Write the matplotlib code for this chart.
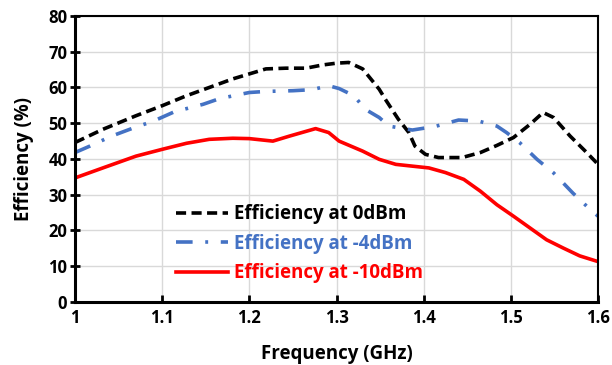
import matplotlib
matplotlib.use("Agg")
import matplotlib.pyplot as plt

# Data
freq_0dbm = [1.00, 1.032, 1.07, 1.10, 1.128, 1.154, 1.181, 1.20, 1.219, 1.242, 1.265, 1.284,
             1.30, 1.314, 1.33, 1.349, 1.356, 1.371, 1.383, 1.39, 1.402, 1.417, 1.444,
             1.465, 1.484, 1.503, 1.522, 1.537, 1.549, 1.568, 1.587, 1.60]
eff_0dbm = [44.6, 48.3, 52.1, 54.9, 57.7, 60.0, 62.4, 63.8, 65.2, 65.4, 65.4, 66.3,
            66.8, 67.0, 65.2, 59.5, 56.7, 51.1, 47.4, 43.6, 41.3, 40.4, 40.4,
            41.8, 43.8, 46.0, 49.7, 53.0, 51.6, 46.4, 41.8, 38.5]

freq_m4dbm = [1.00, 1.017, 1.042, 1.065, 1.09, 1.114, 1.147, 1.166, 1.20, 1.219, 1.25, 1.272,
              1.291, 1.303, 1.32, 1.333, 1.349, 1.36, 1.387, 1.413, 1.44, 1.463, 1.484,
              1.495, 1.51, 1.53, 1.549, 1.571, 1.587, 1.60]
eff_m4dbm = [41.8, 43.6, 46.4, 48.5, 50.6, 53.2, 55.3, 56.9, 58.6, 58.9, 59.1, 59.4,
             60.5, 59.7, 57.7, 53.9, 51.6, 49.2, 48.1, 49.1, 50.9, 50.6, 49.2,
             47.4, 44.6, 39.9, 36.1, 30.5, 26.8, 24.0]

freq_m10dbm = [1.00, 1.032, 1.07, 1.10, 1.128, 1.154, 1.181, 1.20, 1.227, 1.246, 1.276, 1.291,
               1.303, 1.33, 1.349, 1.368, 1.387, 1.406, 1.425, 1.446, 1.465, 1.484, 1.503,
               1.522, 1.541, 1.56, 1.579, 1.60]
eff_m10dbm = [34.7, 37.5, 40.8, 42.7, 44.4, 45.5, 45.8, 45.7, 45.0, 46.4, 48.5, 47.4,
              45.0, 42.2, 39.9, 38.5, 38.0, 37.5, 36.2, 34.3, 31.0, 27.2, 24.0,
              20.7, 17.4, 15.1, 12.9, 11.3]

labels = ["Efficiency at 0dBm", "Efficiency at -4dBm", "Efficiency at -10dBm"]
x_ticks = [1, 1.1, 1.2, 1.3, 1.4, 1.5, 1.6]
x_ticklabels = ["1", "1.1", "1.2", "1.3", "1.4", "1.5", "1.6"]
y_ticks = [0, 10, 20, 30, 40, 50, 60, 70, 80]

plt.rcParams['font.family'] = ['Open Sans', 'DejaVu Sans']
plt.rcParams['font.weight'] = 'bold'

fig = plt.figure(figsize=(6.12, 3.65), dpi=100)
ax = fig.add_axes([0.1225, 0.1726, 0.8547, 0.7836])

lw = 2.6
l1, = ax.plot(freq_0dbm, eff_0dbm, color='black', lw=lw, label=labels[0])
l1.set_dashes([2.8, 1.5])
l2, = ax.plot(freq_m4dbm, eff_m4dbm, color='#4472C4', lw=lw, label=labels[1])
l2.set_dashes([4.6, 3.5, 0.8, 3.5])
l3, = ax.plot(freq_m10dbm, eff_m10dbm, color='#FF0000', lw=lw, label=labels[2])
for ln in (l1, l2, l3):
    ln.set_dash_capstyle('butt')
    ln.set_solid_joinstyle('round')
    ln.set_dash_joinstyle('round')

ax.set_xlim(1, 1.6)
ax.set_ylim(0, 80)
ax.set_xticks(x_ticks)
ax.set_xticklabels(x_ticklabels)
ax.set_yticks(y_ticks)
ax.grid(True, color='#d9d9d9', lw=1.0)
ax.set_axisbelow(True)

for side in ('left', 'bottom'):
    ax.spines[side].set_linewidth(2.2)
for side in ('top', 'right'):
    ax.spines[side].set_linewidth(1.5)

ax.tick_params(axis='x', direction='in', length=5, width=2, labelsize=12, pad=5)
ax.tick_params(axis='y', direction='inout', length=7, width=2, labelsize=12, pad=2)
for t in ax.get_xticklabels() + ax.get_yticklabels():
    t.set_fontweight('bold')

ax.set_xlabel("Frequency (GHz)", fontsize=13.5, fontweight='bold', labelpad=12)
ax.set_ylabel("Efficiency (%)", fontsize=13.5, fontweight='bold', labelpad=10)

leg = ax.legend(loc='upper left', bbox_to_anchor=(0.16, 0.40), frameon=False,
                handlelength=2.8, handletextpad=0.3, labelspacing=0.5,
                prop={'weight': 'bold', 'size': 13.5}, labelcolor='linecolor')

fig.savefig("out.png", dpi=100)
